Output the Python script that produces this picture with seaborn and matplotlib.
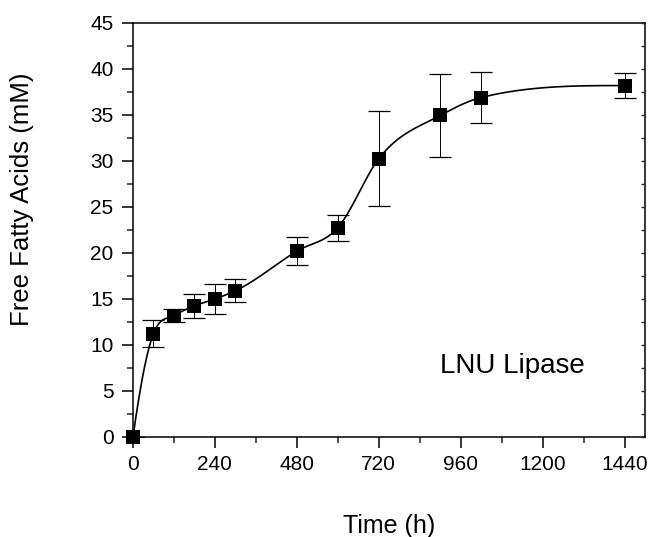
import numpy as np
import pandas as pd
import matplotlib
matplotlib.use("Agg")
import matplotlib.pyplot as plt
import seaborn as sns

# ---- data ----
time_h = [0, 60, 120, 180, 240, 300, 480, 600, 720, 900, 1020, 1440]
ffa_mM = [0.0, 11.25, 13.2, 14.25, 15.0, 15.9, 20.2, 22.75, 30.25, 34.95, 36.9, 38.2]
ffa_err = [0.0, 1.45, 0.7, 1.3, 1.65, 1.25, 1.5, 1.4, 5.15, 4.55, 2.8, 1.35]
x_ticks = [0, 240, 480, 720, 960, 1200, 1440]
y_ticks = [0, 5, 10, 15, 20, 25, 30, 35, 40, 45]
label_text = "LNU Lipase"

df = pd.DataFrame({"Time": time_h, "FFA": ffa_mM, "err": ffa_err})


def smooth_curve(x, y, xs):
    """Monotone cubic Hermite curve through the data (Fritsch-Carlson limited)."""
    x = np.asarray(x, float)
    y = np.asarray(y, float)
    h = np.diff(x)
    delta = np.diff(y) / h
    n = len(x)
    d = np.zeros(n)
    for k in range(1, n - 1):
        d[k] = (delta[k - 1] * h[k] + delta[k] * h[k - 1]) / (h[k - 1] + h[k])

    def end(h0, h1, del0, del1):
        dd = ((2 * h0 + h1) * del0 - h0 * del1) / (h0 + h1)
        if np.sign(dd) != np.sign(del0):
            dd = 0.0
        return dd

    d[0] = end(h[0], h[1], delta[0], delta[1])
    d[-1] = end(h[-1], h[-2], delta[-1], delta[-2])
    for k in range(n - 1):
        if delta[k] == 0:
            d[k] = d[k + 1] = 0.0
            continue
        a = d[k] / delta[k]
        b = d[k + 1] / delta[k]
        s = a * a + b * b
        if s > 9:
            tau = 3 / np.sqrt(s)
            d[k] = tau * a * delta[k]
            d[k + 1] = tau * b * delta[k]
    idx = np.clip(np.searchsorted(x, xs) - 1, 0, n - 2)
    t = (xs - x[idx]) / h[idx]
    h00 = 2 * t**3 - 3 * t**2 + 1
    h10 = t**3 - 2 * t**2 + t
    h01 = -2 * t**3 + 3 * t**2
    h11 = t**3 - t**2
    return h00 * y[idx] + h10 * h[idx] * d[idx] + h01 * y[idx + 1] + h11 * h[idx] * d[idx + 1]


sns.set_theme(style="ticks")
plt.rcParams["font.family"] = ["Liberation Sans", "DejaVu Sans"]

fig = plt.figure(figsize=(6.51, 5.37), dpi=100)
ax = fig.add_axes([133 / 651, (537 - 437) / 537, (645 - 133) / 651, (437 - 23) / 537])

xs = np.linspace(min(time_h), max(time_h), 800)
smooth = pd.DataFrame({"Time": xs, "FFA": smooth_curve(time_h, ffa_mM, xs)})
sns.lineplot(data=smooth, x="Time", y="FFA", ax=ax, color="black", lw=1.2,
             zorder=3, legend=False)

ax.errorbar(df["Time"], df["FFA"], yerr=df["err"], fmt="none", ecolor="black",
            elinewidth=0.7, capsize=8, capthick=0.9, zorder=2)

sns.scatterplot(data=df, x="Time", y="FFA", ax=ax, marker="s", s=105,
                color="black", edgecolor="black", linewidth=0, zorder=4,
                clip_on=False, legend=False)

ax.set_xlim(0, 1500)
ax.set_ylim(0, 45)
ax.set_xticks(x_ticks)
ax.set_yticks(y_ticks)
ax.set_xticks(np.arange(120, 1500, 240), minor=True)
ax.set_yticks(np.arange(2.5, 45, 5), minor=True)
ax.set_xlabel("")
ax.set_ylabel("")

for s in ax.spines.values():
    s.set_linewidth(1.1)
    s.set_color("black")
    s.set_visible(True)

ax.tick_params(axis="both", which="major", direction="out", length=8, width=1.1,
               labelsize=15, colors="black", top=False, right=False)
ax.tick_params(axis="both", which="minor", direction="out", length=4, width=1.1,
               top=False, right=False)
ax.tick_params(axis="x", which="major", pad=5)
ax.tick_params(axis="y", which="major", pad=6)

# inward ticks on right spine
ax2 = ax.twinx()
ax2.set_ylim(ax.get_ylim())
ax2.set_yticks(np.arange(0, 45.1, 2.5))
ax2.tick_params(axis="y", direction="in", length=3, width=1.0, labelright=False)
for s in ax2.spines.values():
    s.set_visible(False)

fig.text(512 / 651, 1 - 366 / 537, label_text, fontsize=20, ha="center", va="center",
         color="black")
fig.text(389 / 651, 1 - 526 / 537, "Time (h)", fontsize=18, ha="center", va="center",
         color="black")
fig.text(22 / 651, 1 - 199 / 537, "Free Fatty Acids (mM)", fontsize=18.5, rotation=90,
         ha="center", va="center", color="black")

fig.savefig("out.png", dpi=100, facecolor="white")
